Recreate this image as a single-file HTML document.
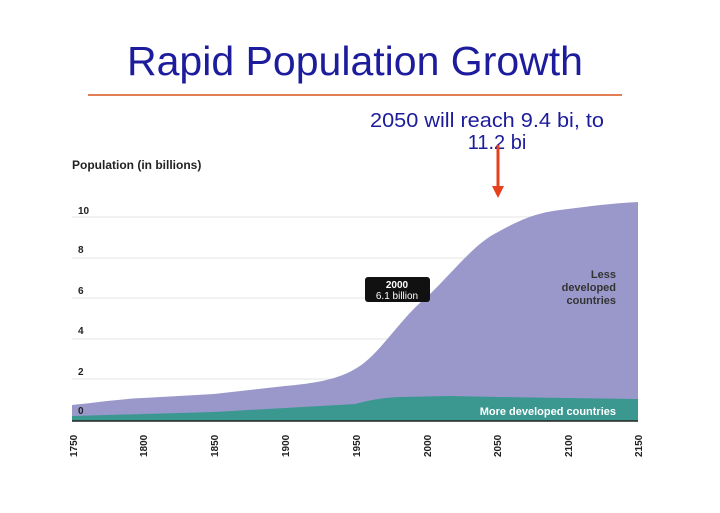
<!DOCTYPE html>
<html><head><style>
body{margin:0;width:720px;height:508px;background:#fff;overflow:hidden;font-family:"Liberation Sans",sans-serif}
</style></head><body>
<svg width="720" height="508" xmlns="http://www.w3.org/2000/svg" font-family="Liberation Sans, sans-serif">
<text x="355" y="75" text-anchor="middle" font-size="41" fill="#1c1c9c" textLength="456" lengthAdjust="spacingAndGlyphs">Rapid Population Growth</text>
<line x1="88" y1="95" x2="622" y2="95" stroke="#d9531e" stroke-width="1.5"/>
<text x="487" y="127" text-anchor="middle" font-size="20" fill="#1c1c9c" textLength="234" lengthAdjust="spacingAndGlyphs">2050 will reach 9.4 bi, to</text>
<text x="497" y="149" text-anchor="middle" font-size="20" fill="#1c1c9c">11.2 bi</text>
<text x="72" y="169" font-size="12" font-weight="bold" fill="#222">Population (in billions)</text>
<g stroke="#e4e4e4" stroke-width="1">
<line x1="72" y1="217" x2="638" y2="217"/><line x1="72" y1="258" x2="638" y2="258"/>
<line x1="72" y1="298" x2="638" y2="298"/><line x1="72" y1="339" x2="638" y2="339"/>
<line x1="72" y1="379" x2="638" y2="379"/></g>
<path d="M72,405 C100,402 120,399 143,398 L214,394 L285,386 C320,383 340,378 355,369 C380,355 400,318 427,297 C455,270 475,243 498,232 C520,220 535,213 560,210 C590,206 615,203 638,202 L638,421 L72,421 Z" fill="#9a98cb"/>
<path d="M72,416 L214,412 L355,404 C370,400 380,398 400,397 L450,396 L500,397 L638,399 L638,421 L72,421 Z" fill="#3a9891"/>
<line x1="72" y1="421" x2="638" y2="421" stroke="#222" stroke-width="1.5"/>
<g font-size="10" font-weight="bold" fill="#222">
<text x="78" y="214">10</text><text x="78" y="253">8</text><text x="78" y="294">6</text>
<text x="78" y="334">4</text><text x="78" y="375">2</text><text x="78" y="414">0</text>
</g>
<g font-size="10" font-weight="bold" fill="#222">
<text transform="translate(77,457) rotate(-90)">1750</text>
<text transform="translate(147,457) rotate(-90)">1800</text>
<text transform="translate(218,457) rotate(-90)">1850</text>
<text transform="translate(289,457) rotate(-90)">1900</text>
<text transform="translate(360,457) rotate(-90)">1950</text>
<text transform="translate(431,457) rotate(-90)">2000</text>
<text transform="translate(501,457) rotate(-90)">2050</text>
<text transform="translate(572,457) rotate(-90)">2100</text>
<text transform="translate(642,457) rotate(-90)">2150</text>
</g>
<rect x="365" y="277" width="65" height="25" rx="3" fill="#111"/>
<polygon points="413,301 424,301 427,297" fill="#111"/>
<text x="397" y="288" text-anchor="middle" font-size="10" font-weight="bold" fill="#fff">2000</text>
<text x="397" y="299" text-anchor="middle" font-size="10" fill="#fff">6.1 billion</text>
<g font-size="11" font-weight="bold" fill="#333" text-anchor="end">
<text x="616" y="278">Less</text><text x="616" y="291">developed</text><text x="616" y="304">countries</text>
</g>
<text x="616" y="415" text-anchor="end" font-size="11" font-weight="bold" fill="#fff">More developed countries</text>
<line x1="498" y1="145" x2="498" y2="188" stroke="#e8401c" stroke-width="3"/>
<polygon points="492,186 504,186 498,198" fill="#e8401c"/>
</svg>
</body></html>
